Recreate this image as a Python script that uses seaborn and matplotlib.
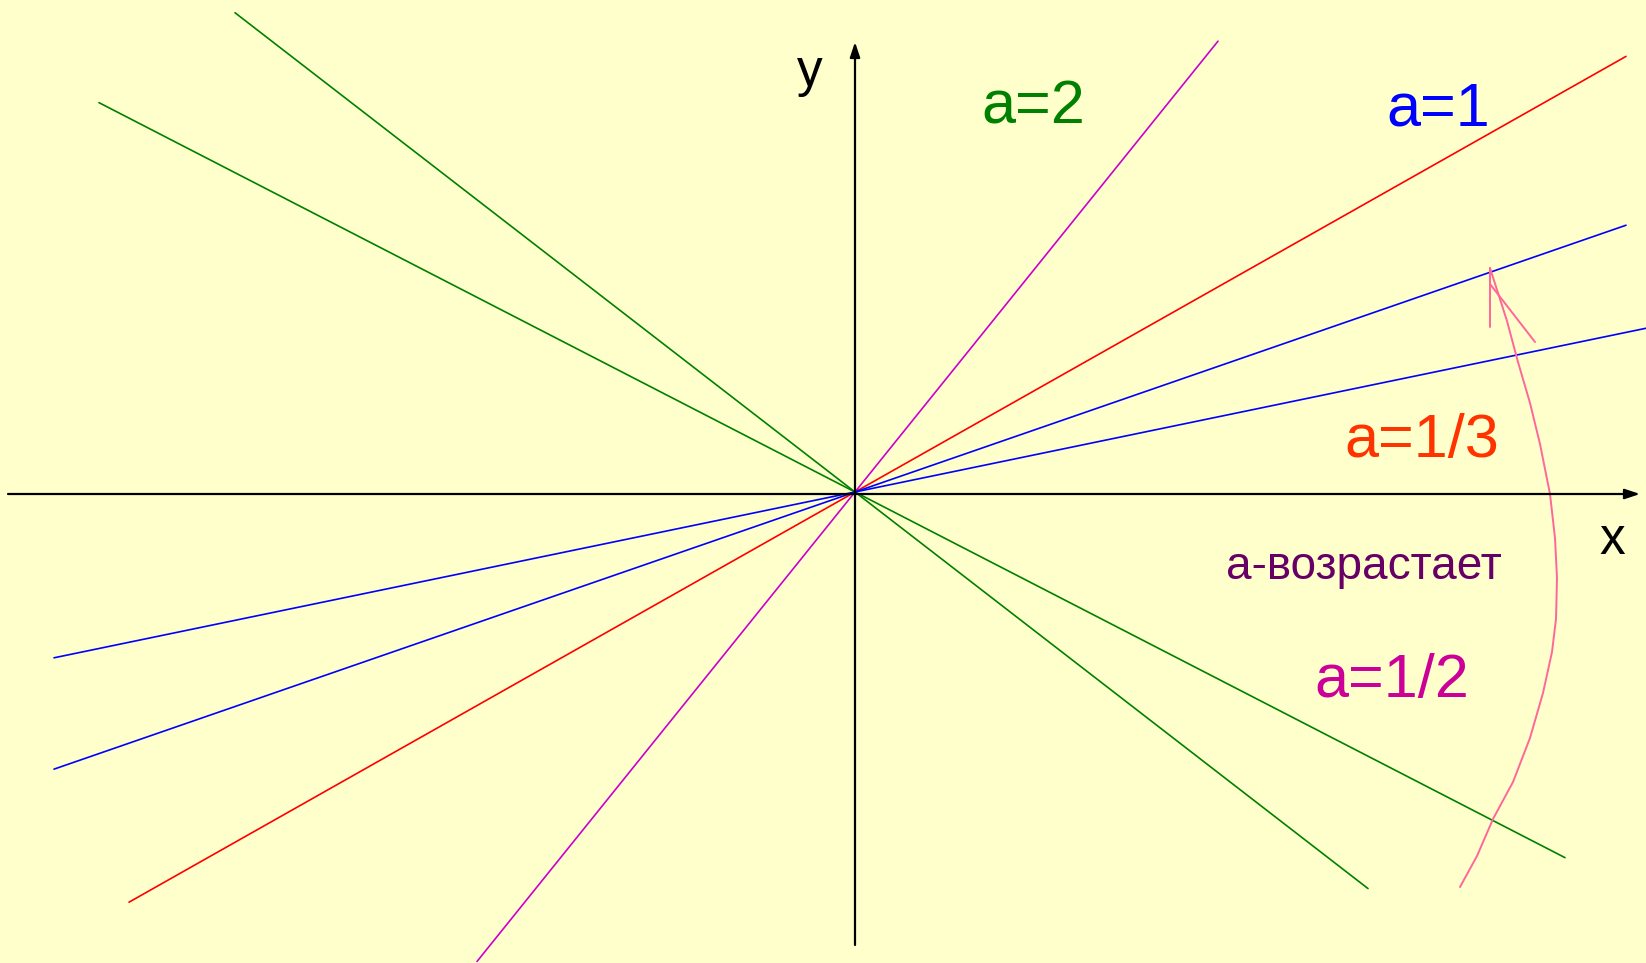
import pandas as pd
import matplotlib
matplotlib.use('Agg')
import matplotlib.pyplot as plt
import seaborn as sns

# lines y = k*x through the origin (pixel units, origin in the middle)
line_names = ['g_steep', 'g_flat', 'magenta', 'red', 'blue_1', 'blue_2']
slopes = [-0.773, -0.515, 1.242, 0.565, 0.346, 0.207]
x_left = [-620, -756, -378, -726, -801, -801]
x_right = [513, 710, 363, 771, 771, 791]
line_colors = ['#008000', '#008000', '#CC00CC', '#FF0000', '#0000FF', '#0000FF']

# pink "a grows" arc
arc_x = [605, 622, 638, 658, 675, 688, 697, 701, 702, 700, 695, 685, 675, 663, 652, 635]
arc_y = [-395, -364, -327, -290, -246, -201, -160, -127, -86, -46, -2, 48, 89, 130, 171, 224]

labels = ['a=2', 'a=1', 'a=1/3', 'а-возрастает', 'a=1/2']
label_colors = ['#008000', '#0000FF', '#FF3300', '#660066', '#CC0099']

rows = []
for name, k, xl, xr in zip(line_names, slopes, x_left, x_right):
    rows.append({'line': name, 'x': xl, 'y': k * xl})
    rows.append({'line': name, 'x': xr, 'y': k * xr})
df = pd.DataFrame(rows)

sns.set_style('white')
plt.rcParams['font.family'] = ['Liberation Sans', 'DejaVu Sans']

fig = plt.figure(figsize=(16.46, 9.63), dpi=100, facecolor='#FFFFCC')
ax = fig.add_axes([0, 0, 1, 1])
ax.set_facecolor('#FFFFCC')

sns.lineplot(data=df, x='x', y='y', hue='line', palette=dict(zip(line_names, line_colors)),
             sort=False, estimator=None, legend=False, linewidth=1.2, ax=ax)

# arc with arrow barbs
arc = pd.DataFrame({'x': arc_x, 'y': arc_y})
sns.lineplot(data=arc, x='x', y='y', sort=False, estimator=None, color='#FF6699', linewidth=1.4, ax=ax)
ax.plot([635, 635], [224, 165], color='#FF6699', lw=1.4)
ax.plot([635, 680], [208, 150], color='#FF6699', lw=1.4)

# coordinate axes
arrow = dict(arrowstyle='-|>,head_length=0.9,head_width=0.3', color='black', lw=1.6, shrinkA=0, shrinkB=0)
ax.annotate('', xy=(785, -2), xytext=(-847, -2), arrowprops=arrow)
ax.annotate('', xy=(0, 450), xytext=(0, -453), arrowprops=arrow)
ax.text(-45, 420, 'y', fontsize=37, color='black', ha='center', va='center')
ax.text(757, -48, 'x', fontsize=37, color='black', ha='center', va='center')

# labels
pos = [(178, 384), (583, 382), (567, 51), (509, -75), (537, -190)]
sizes = [44, 44, 44, 33, 44]
for t, c, (px, py), s in zip(labels, label_colors, pos, sizes):
    ax.text(px, py, t, color=c, fontsize=s, ha='center', va='center')

ax.set_xlim(-855, 791)
ax.set_ylim(-471, 492)
ax.axis('off')

plt.savefig('out.png', dpi=100, facecolor='#FFFFCC')
